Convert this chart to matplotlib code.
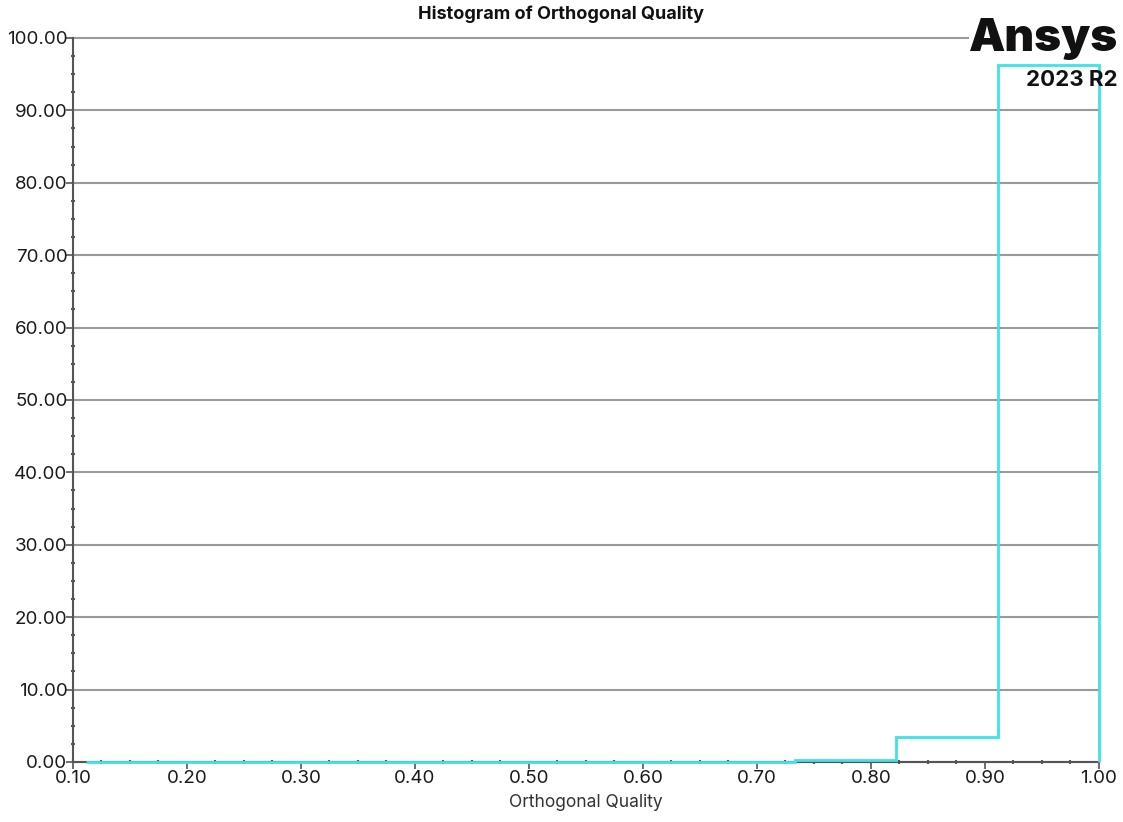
import numpy as np
import matplotlib
matplotlib.use("Agg")
import matplotlib.pyplot as plt
from matplotlib.ticker import MultipleLocator, FormatStrFormatter

plt.rcParams['font.family'] = ['Inter', 'DejaVu Sans']

# mesh quality histogram: 10 bins between min quality and 1.0, percent of cells
q_min = 0.111
q_max = 1.0
n_bins = 10
percent = [0.005, 0.005, 0.01, 0.01, 0.015, 0.02, 0.04, 0.25, 3.40, 96.25]

edges = np.linspace(q_min, q_max, n_bins + 1)

fig = plt.figure(figsize=(11.23, 8.22), dpi=100)
ax = fig.add_axes([0.065, 0.073, 0.9136, 0.8808])

ax.set_xlim(0.1, 1.0)
ax.set_ylim(0, 100)

ax.yaxis.set_major_locator(MultipleLocator(10))
ax.yaxis.set_minor_locator(MultipleLocator(2.5))
ax.xaxis.set_major_locator(MultipleLocator(0.1))
ax.xaxis.set_minor_locator(MultipleLocator(0.025))
ax.yaxis.set_major_formatter(FormatStrFormatter('%.2f'))
ax.xaxis.set_major_formatter(FormatStrFormatter('%.2f'))

ax.grid(axis='y', which='major', color='#9a9a9a', lw=1.5, zorder=0)
ax.set_axisbelow(True)
for gl in ax.yaxis.get_gridlines():
    gl.set_clip_on(False)

for side in ['top', 'right']:
    ax.spines[side].set_visible(False)
for side in ['left', 'bottom']:
    ax.spines[side].set_color('#555555')
    ax.spines[side].set_linewidth(1.5)

ax.tick_params(which='major', length=5, width=1.2, color='#555555',
               labelsize=13.5, labelcolor='#1a1a1a')
ax.tick_params(axis='y', which='major', pad=-1)
ax.tick_params(axis='x', which='major', pad=1)
ax.tick_params(which='minor', length=3, width=1.5, color='#555555',
               direction='inout')

ax.stairs(percent, edges, baseline=0, color='#3fe3e6', lw=2, zorder=3,
          clip_on=False)

fig.text(0.5, 0.983, 'Histogram of Orthogonal Quality', ha='center',
         va='center', fontsize=13, fontweight='bold', color='#111111')
ax.set_xlabel('Orthogonal Quality', fontsize=12.5, color='#333333',
              labelpad=5)

# product logo in the top-right corner
fig.text(0.996, 0.9275, 'Ansys', ha='right', va='bottom', fontsize=33,
         fontweight='black', color='#111111',
         bbox=dict(facecolor='white', edgecolor='none', pad=0))
fig.text(0.995, 0.89, '2023 R2', ha='right', va='bottom', fontsize=16,
         fontweight='bold', color='#111111')

fig.savefig('out.png', dpi=100)
